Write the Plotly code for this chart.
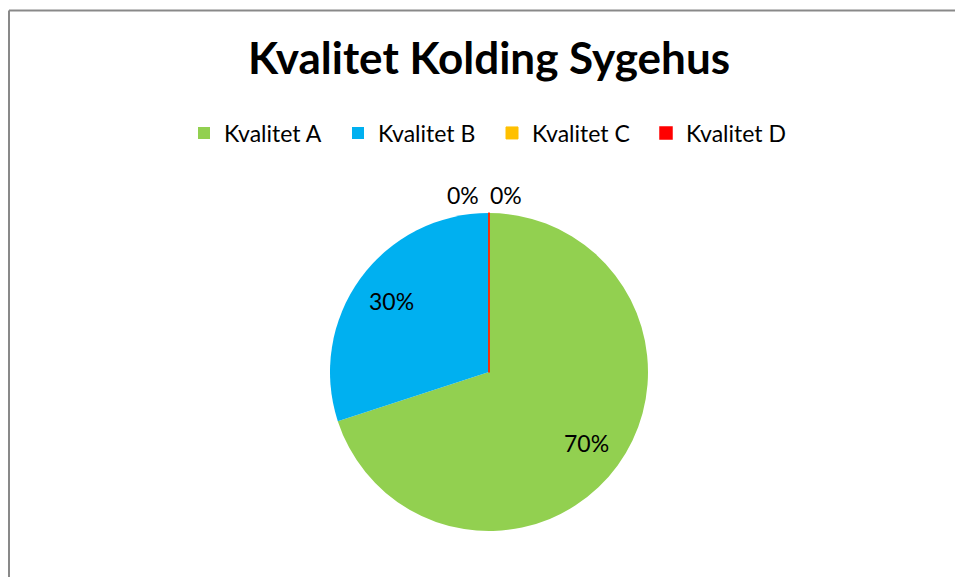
import math
import plotly.graph_objects as go

categories = ["Kvalitet A", "Kvalitet B", "Kvalitet C", "Kvalitet D"]
values = [70, 30, 0, 0]
colors = ["#92D050", "#00B0F0", "#FFC000", "#FF0000"]
title_text = "Kvalitet Kolding Sygehus"

W, H = 955, 577
FONT = "Lato"
LABEL_SIZE = 23

total = sum(values)
pct = [f"{round(100 * v / total)}%" for v in values]

# pie geometry (pixels)
cx, cy, r = 489, 372, 159

fig = go.Figure()
fig.add_trace(go.Pie(
    labels=categories,
    values=values,
    textinfo="none",
    sort=False,
    direction="clockwise",
    rotation=0,
    marker=dict(colors=colors,
                line=dict(color=["rgba(0,0,0,0)", "rgba(0,0,0,0)", "#FFC000", "#FF0000"],
                          width=[0, 0, 1, 1.5])),
    domain=dict(x=[(cx - r) / W, (cx + r) / W], y=[(H - cy - r) / H, (H - cy + r) / H]),
    hoverinfo="label+percent",
))

# data labels: inside slices at ~0.76 r along the mid-angle, zero slices above 12 o'clock
annotations = []
cum = 0.0
zero_k = 0
zero_offsets = [-26, 17]
for i, v in enumerate(values):
    if v > 0:
        theta = 2 * math.pi * (cum + v / 2) / total
        px = cx + 0.76 * r * math.sin(theta)
        py = cy - 0.76 * r * math.cos(theta)
    else:
        px = cx + zero_offsets[zero_k % 2]
        py = 195
        zero_k += 1
    cum += v
    annotations.append(dict(
        x=px / W, y=(H - py) / H, xref="paper", yref="paper",
        text=pct[i], showarrow=False, xanchor="center", yanchor="middle",
        font=dict(family=FONT, size=LABEL_SIZE, color="black"),
    ))

border = dict(color="#898989", width=2)
fig.update_layout(
    width=W, height=H,
    margin=dict(l=0, r=0, t=0, b=0),
    paper_bgcolor="white",
    plot_bgcolor="white",
    title=dict(text=f"<b>{title_text}</b>", x=489 / W, xanchor="center",
               y=1 - 59 / H, yanchor="middle", yref="container",
               font=dict(family=FONT, size=44, color="black")),
    legend=dict(orientation="h", x=492 / W, xanchor="center", y=1 - 133 / H, yanchor="middle",
                font=dict(family=FONT, size=23, color="black"),
                entrywidth=109, entrywidthmode="pixels", traceorder="normal"),
    annotations=annotations,
    shapes=[
        dict(type="line", xref="paper", yref="paper",
             x0=9 / W, x1=1.02, y0=1 - 10.5 / H, y1=1 - 10.5 / H, line=border, layer="below"),
        dict(type="line", xref="paper", yref="paper",
             x0=9 / W, x1=9 / W, y0=-0.02, y1=1 - 10.5 / H, line=border, layer="below"),
    ],
)

fig.write_html("out.html",
               config={"displayModeBar": False},
               post_script="document.body.style.margin='0';document.body.style.overflow='hidden';")
